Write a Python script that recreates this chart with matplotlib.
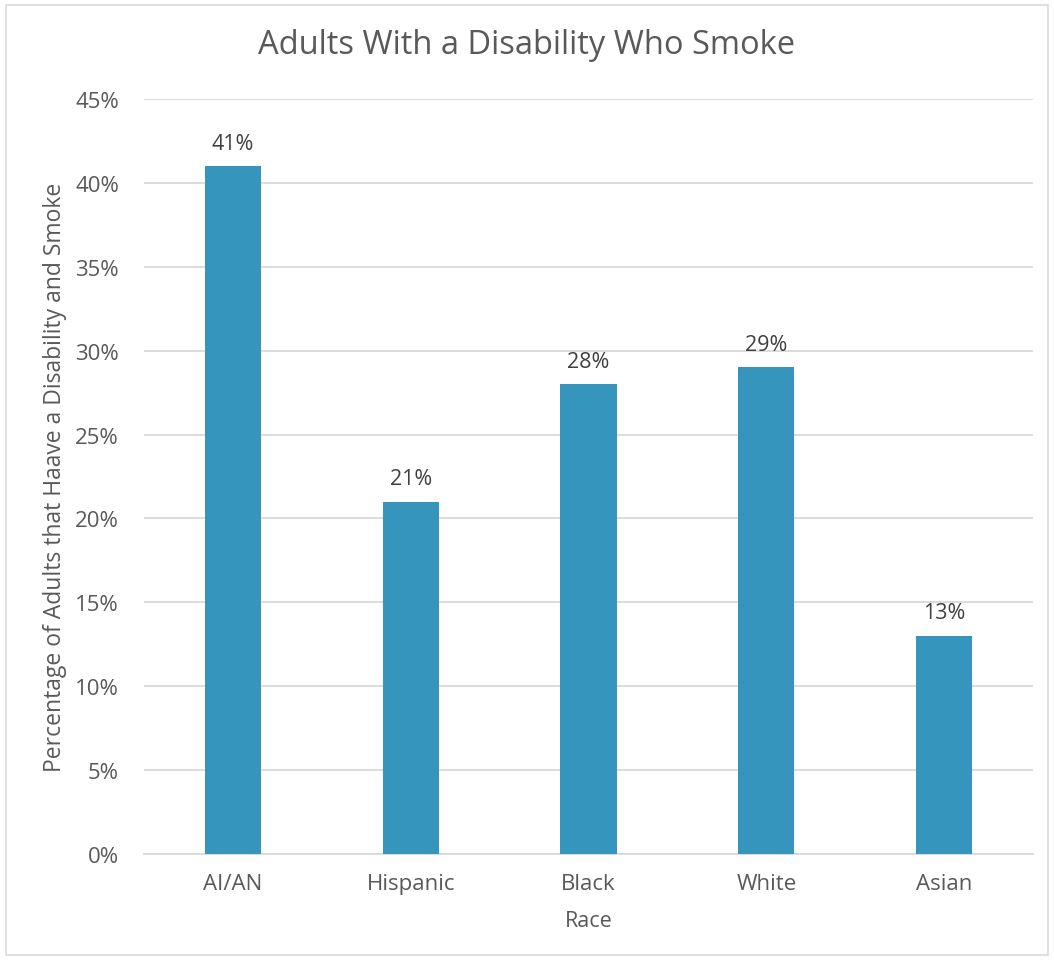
import matplotlib.pyplot as plt
from matplotlib.patches import Rectangle
from matplotlib.ticker import FuncFormatter, MultipleLocator

races = ["AI/AN", "Hispanic", "Black", "White", "Asian"]
smoke_pct = [41, 21, 28, 29, 13]

text_color = "#595959"
bar_color = "#3595BC"
grid_color = "#D9D9D9"

plt.rcParams["font.family"] = ["Open Sans", "DejaVu Sans"]

fig = plt.figure(figsize=(10.54, 9.62), dpi=100)
ax = fig.add_axes([144 / 1054, 1 - 855 / 962, (1033 - 144) / 1054, (855 - 100) / 962])

x = range(len(races))
bars = ax.bar(x, smoke_pct, width=0.315, color=bar_color, zorder=3)
for b, v in zip(bars, smoke_pct):
    ax.annotate(f"{v}%", (b.get_x() + b.get_width() / 2, v), xytext=(0, 9),
                textcoords="offset points", ha="center", va="bottom",
                fontsize=15.5, color="#404040")

ax.set_xlim(-0.5, len(races) - 0.5)
ax.set_ylim(0, 45)
ax.yaxis.set_major_locator(MultipleLocator(5))
ax.yaxis.set_major_formatter(FuncFormatter(lambda v, p: f"{v:.0f}%"))
ax.set_xticks(list(x))
ax.set_xticklabels(races)
ax.tick_params(axis="both", length=0, labelsize=16, colors=text_color)
ax.tick_params(axis="x", pad=14)
ax.tick_params(axis="y", pad=18)
ax.grid(axis="y", color=grid_color, linewidth=1.3, zorder=0)
for s in ["top", "right", "left"]:
    ax.spines[s].set_visible(False)
ax.spines["bottom"].set_color(grid_color)
ax.spines["bottom"].set_linewidth(1.3)

ax.set_xlabel("Race", fontsize=15.5, color=text_color, labelpad=11)
ax.set_ylabel("Percentage of Adults that Haave a Disability and Smoke",
              fontsize=16.5, color=text_color, labelpad=6)
fig.text(0.5, 1 - 45 / 962, "Adults With a Disability Who Smoke",
         ha="center", va="center", fontsize=23.5, color=text_color)

fig.patches.append(Rectangle((6 / 1054, 6 / 962), 1 - 12 / 1054, 1 - 12 / 962,
                             transform=fig.transFigure, fill=False,
                             edgecolor="#D9D9D9", linewidth=1.2))

fig.savefig("out.png", dpi=100)
